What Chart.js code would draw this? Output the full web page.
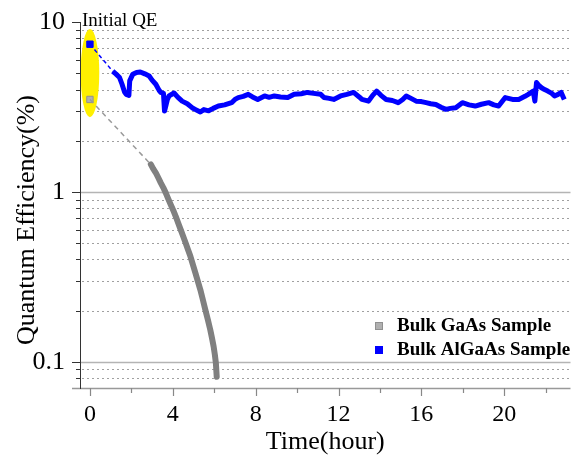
<!DOCTYPE html>
<html><head><meta charset="utf-8">
<script src="https://cdn.jsdelivr.net/npm/chart.js@4/dist/chart.umd.min.js"></script>
<style>html,body{margin:0;padding:0;background:#fff}</style>
</head><body>
<canvas id="c" width="576" height="460"></canvas>
<script>
// ---- data ----
const initialTime = 0;
const gaasInitialQE = 3.5;
const algaasInitialQE = 7.4;

const gaasTime = [2.94, 3.05, 3.18, 3.30, 3.42, 3.54, 3.66, 3.78, 3.90, 4.02, 4.14, 4.26, 4.38, 4.50, 4.62, 4.74, 4.85, 4.97, 5.09, 5.21, 5.33, 5.45, 5.57, 5.69, 5.81, 5.89, 5.97, 6.03, 6.08, 6.12];
const gaasQE   = [1.45, 1.37, 1.295, 1.21, 1.13, 1.06, 0.986, 0.91, 0.841, 0.78, 0.718, 0.655, 0.599, 0.548, 0.50, 0.455, 0.417, 0.373, 0.333, 0.297, 0.265, 0.232, 0.202, 0.177, 0.154, 0.138, 0.123, 0.110, 0.098, 0.0815];

const algaasTime = [1.10, 1.25, 1.43, 1.55, 1.67, 1.75, 1.88, 1.92, 2.07, 2.25, 2.43, 2.65, 2.86, 3.00, 3.18, 3.34, 3.42, 3.55, 3.60, 3.66, 3.74, 3.82, 4.06, 4.25, 4.45, 4.70, 4.93, 5.10, 5.33, 5.50, 5.73, 5.95, 6.20, 6.50, 6.84, 7.00, 7.16, 7.40, 7.64, 7.85, 8.10, 8.43, 8.65, 8.90, 9.20, 9.55, 9.86, 10.2, 10.5, 10.8, 11.14, 11.3, 11.55, 11.77, 12.1, 12.4, 12.73, 13.0, 13.13, 13.45, 13.65, 13.84, 14.05, 14.3, 14.6, 14.88, 15.1, 15.27, 15.5, 15.75, 16.0, 16.23, 16.45, 16.7, 16.95, 17.18, 17.4, 17.66, 17.98, 18.3, 18.6, 18.9, 19.25, 19.5, 19.73, 20.05, 20.4, 20.7, 21.0, 21.16, 21.4, 21.48, 21.56, 21.7, 21.8, 21.95, 22.1, 22.3, 22.43, 22.6, 22.75, 22.9];
const algaasQE   = [5.13, 4.95, 4.71, 4.30, 3.87, 3.75, 3.70, 4.50, 4.93, 5.05, 5.08, 4.95, 4.81, 4.55, 4.30, 3.96, 3.85, 3.80, 2.99, 3.20, 3.50, 3.67, 3.82, 3.60, 3.42, 3.30, 3.13, 3.05, 2.95, 3.05, 3.00, 3.10, 3.20, 3.25, 3.35, 3.50, 3.59, 3.65, 3.75, 3.62, 3.50, 3.67, 3.60, 3.67, 3.62, 3.59, 3.75, 3.78, 3.85, 3.80, 3.75, 3.59, 3.55, 3.50, 3.67, 3.75, 3.85, 3.62, 3.50, 3.42, 3.70, 3.92, 3.70, 3.50, 3.45, 3.35, 3.50, 3.67, 3.55, 3.42, 3.40, 3.35, 3.30, 3.27, 3.15, 3.06, 3.10, 3.13, 3.35, 3.25, 3.20, 3.28, 3.35, 3.25, 3.20, 3.59, 3.50, 3.50, 3.65, 3.75, 3.92, 3.42, 4.40, 4.20, 4.10, 4.00, 3.92, 3.80, 3.67, 3.75, 3.85, 3.50];

const seriesLabels = ['Bulk GaAs Sample', 'Bulk AlGaAs Sample'];
const yMajorTicks = [0.1, 1, 10];
const yMinorTicks = [0.08, 0.09, 0.2, 0.3, 0.4, 0.5, 0.6, 0.7, 0.8, 0.9, 2, 3, 4, 5, 6, 7, 8, 9];
const xTickLabels = [0, 4, 8, 12, 16, 20];
const xMinorTicks = [2, 6, 10, 14, 18, 22];
const annotationText = 'Initial QE';
const xTitle = 'Time(hour)';
const yTitle = 'Quantum Efficiency(%)';
// highlight ellipse (data space): centre time, half-width in hours, QE range
const ellipseT = 0, ellipseHalfT = 0.45, ellipseTop = 9.1, ellipseBottom = 2.75;

const SERIF = '"Liberation Serif", "Times New Roman", serif';
const GRAY = '#808080', BLUE = '#0000ff';

const toXY = (xs, ys) => xs.map((x, i) => ({x, y: ys[i]}));

const decorPlugin = {
  id: 'decor',
  beforeDatasetsDraw(chart) {
    const {ctx, chartArea: a, scales: {x, y}} = chart;
    ctx.save();
    // grid lines
    ctx.lineWidth = 1;
    ctx.strokeStyle = '#a0a0a0';
    ctx.setLineDash([2, 3]);
    yMinorTicks.forEach(v => {
      const py = Math.round(y.getPixelForValue(v)) + 0.5;
      ctx.beginPath(); ctx.moveTo(a.left + 2, py); ctx.lineTo(a.right, py); ctx.stroke();
    });
    ctx.setLineDash([]);
    ctx.strokeStyle = '#b4b4b4';
    ctx.lineWidth = 1.5;
    [0.1, 1].forEach(v => {
      const py = Math.round(y.getPixelForValue(v)) + 0.5;
      ctx.beginPath(); ctx.moveTo(a.left, py); ctx.lineTo(a.right, py); ctx.stroke();
    });
    // yellow ellipse
    const cx = x.getPixelForValue(ellipseT);
    const rx = x.getPixelForValue(ellipseT + ellipseHalfT) - cx;
    const yt = y.getPixelForValue(ellipseTop), yb = y.getPixelForValue(ellipseBottom);
    ctx.fillStyle = 'rgb(255,240,0)';
    ctx.beginPath();
    ctx.ellipse(cx, (yt + yb) / 2, rx, (yb - yt) / 2, 0, 0, Math.PI * 2);
    ctx.fill();
    ctx.restore();
  },
  afterDraw(chart) {
    const {ctx, chartArea: a, scales: {x, y}} = chart;
    ctx.save();
    // axis lines
    ctx.strokeStyle = '#999';
    ctx.lineWidth = 1.5;
    ctx.beginPath(); ctx.moveTo(a.left - 8, a.bottom + 0.5); ctx.lineTo(a.right, a.bottom + 0.5); ctx.stroke();
    ctx.strokeStyle = '#333';
    ctx.lineWidth = 1;
    ctx.beginPath(); ctx.moveTo(a.left + 0.5, a.top); ctx.lineTo(a.left + 0.5, a.bottom + 1); ctx.stroke();
    // y ticks
    yMajorTicks.forEach(v => {
      const py = Math.round(y.getPixelForValue(v)) + 0.5;
      ctx.beginPath(); ctx.moveTo(a.left - 8, py); ctx.lineTo(a.left, py); ctx.stroke();
    });
    yMinorTicks.forEach(v => {
      const py = Math.round(y.getPixelForValue(v)) + 0.5;
      ctx.beginPath(); ctx.moveTo(a.left - 4, py); ctx.lineTo(a.left, py); ctx.stroke();
    });
    // x ticks
    ctx.strokeStyle = '#888';
    ctx.lineWidth = 1.2;
    xTickLabels.forEach(v => {
      const px = Math.round(x.getPixelForValue(v)) + 0.5;
      ctx.beginPath(); ctx.moveTo(px, a.bottom); ctx.lineTo(px, a.bottom + 8); ctx.stroke();
    });
    xMinorTicks.forEach(v => {
      const px = Math.round(x.getPixelForValue(v)) + 0.5;
      ctx.beginPath(); ctx.moveTo(px, a.bottom); ctx.lineTo(px, a.bottom + 5); ctx.stroke();
    });
    // annotation text
    ctx.fillStyle = '#000';
    ctx.font = '19px ' + SERIF;
    ctx.textAlign = 'left';
    ctx.textBaseline = 'alphabetic';
    ctx.fillText(annotationText, a.left + 2, a.top + 4);
    // y title
    ctx.save();
    ctx.translate(27, 220);
    ctx.rotate(-Math.PI / 2);
    ctx.font = '26px ' + SERIF;
    ctx.textAlign = 'center';
    ctx.textBaseline = 'middle';
    ctx.fillText(yTitle, 0, 0);
    ctx.restore();
    // legend
    const rows = [{label: seriesLabels[0], fill: '#b0b0b0', stroke: '#909090'},
                  {label: seriesLabels[1], fill: BLUE, stroke: BLUE}];
    ctx.font = 'bold 19px ' + SERIF;
    ctx.textBaseline = 'middle';
    rows.forEach((r, i) => {
      const cy = a.bottom - 62 + i * 24;
      ctx.fillStyle = r.fill; ctx.strokeStyle = r.stroke; ctx.lineWidth = 1;
      ctx.fillRect(375, cy - 4, 8, 8);
      ctx.strokeRect(375.5, cy - 3.5, 7, 7);
      ctx.fillStyle = '#000';
      ctx.fillText(r.label, 397, cy);
    });
    ctx.restore();
  }
};

new Chart(document.getElementById('c'), {
  type: 'scatter',
  data: {
    datasets: [
      {label: 'gaas-link', data: [{x: initialTime, y: gaasInitialQE}, {x: gaasTime[0], y: gaasQE[0]}],
       showLine: true, borderColor: '#9a9a9a', borderWidth: 1.5, borderDash: [5, 4], pointRadius: 0},
      {label: 'algaas-link', data: [{x: initialTime, y: algaasInitialQE}, {x: algaasTime[0], y: algaasQE[0]}],
       showLine: true, borderColor: BLUE, borderWidth: 1.5, borderDash: [4, 3], pointRadius: 0},
      {label: seriesLabels[0], data: toXY(gaasTime, gaasQE), showLine: true, borderColor: GRAY,
       borderWidth: 6, pointRadius: 0, tension: 0, borderJoinStyle: 'round', borderCapStyle: 'round'},
      {label: seriesLabels[1], data: toXY(algaasTime, algaasQE), showLine: true, borderColor: BLUE,
       borderWidth: 5, pointRadius: 0, tension: 0, borderJoinStyle: 'round'},
      {label: 'gaas-initial', data: [{x: initialTime, y: gaasInitialQE}], pointStyle: 'rect', pointRadius: 4.5,
       backgroundColor: '#b0b0b0', borderColor: '#909090', borderWidth: 1},
      {label: 'algaas-initial', data: [{x: initialTime, y: algaasInitialQE}], pointStyle: 'rect', pointRadius: 4.5,
       backgroundColor: BLUE, borderColor: BLUE, borderWidth: 1}
    ]
  },
  options: {
    responsive: false,
    animation: false,
    devicePixelRatio: 1,
    layout: {padding: {top: 22, right: 0, left: 0, bottom: 0}},
    plugins: {legend: {display: false}, tooltip: {enabled: false}},
    scales: {
      x: {
        type: 'linear', min: -0.48, max: 23.2,
        grid: {display: false, drawTicks: false},
        border: {display: false},
        ticks: {stepSize: 2, includeBounds: false, padding: 12, color: '#000', maxRotation: 0, autoSkip: false,
                font: {family: SERIF, size: 24},
                callback: v => (xTickLabels.includes(v) ? String(v) : '')},
        title: {display: true, text: xTitle, color: '#000', font: {family: SERIF, size: 26}, padding: {top: 0, bottom: 2}},
        afterFit: s => { s.height = 72; s.paddingLeft = 0; s.paddingRight = 0; }
      },
      y: {
        type: 'logarithmic', min: 0.07, max: 10,
        grid: {display: false, drawTicks: false},
        border: {display: false},
        afterBuildTicks: s => { s.ticks = [...yMinorTicks, ...yMajorTicks].sort((a, b) => a - b).map(v => ({value: v})); },
        ticks: {padding: 15, color: '#000', autoSkip: false, font: {family: SERIF, size: 26},
                callback: v => (yMajorTicks.some(m => Math.abs(m - v) < 1e-9) ? String(v) : '')},
        afterFit: s => { s.width = 80; s.paddingTop = 0; s.paddingBottom = 0; }
      }
    }
  },
  plugins: [decorPlugin]
});
</script>
</body></html>
